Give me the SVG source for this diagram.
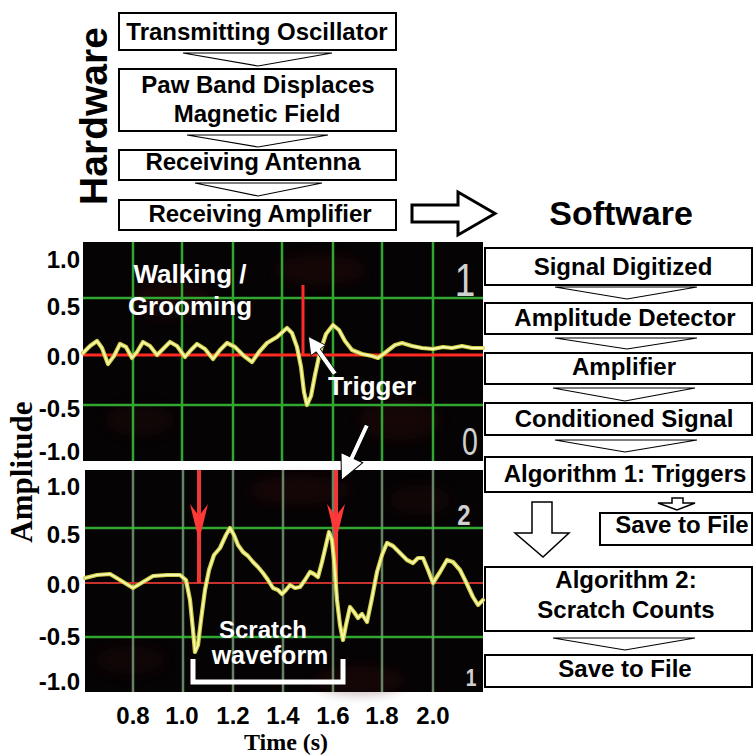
<svg xmlns="http://www.w3.org/2000/svg" width="755" height="756" viewBox="0 0 755 756">
  <style>
    .box { fill: #fff; stroke: #000; stroke-width: 2; }
    .lbl { font-family: "Liberation Sans", Arial, sans-serif; font-weight: bold; font-size: 24px; fill: #000; text-anchor: middle; }
    .chev { fill: #fff; stroke: #000; stroke-width: 1.2; stroke-linejoin: miter; }
    .hollow { fill: #fff; stroke: #000; stroke-linejoin: miter; }
    .tick { font-family: "Liberation Sans", Arial, sans-serif; font-weight: bold; font-size: 24px; fill: #000; }
    .scope { fill: #060304; }
    .gridg { stroke: #39c33a; stroke-width: 2.5; opacity: 0.85; }
    .gridv { stroke: #7fa27c; stroke-width: 2.5; opacity: 0.8; }
    .wave-o { fill: none; stroke: #cfcf45; stroke-width: 4.2; stroke-linejoin: round; stroke-linecap: round; }
    .wave-i { fill: none; stroke: #f8f8b0; stroke-width: 1.8; stroke-linejoin: round; stroke-linecap: round; }
    .wtxt { font-family: "Liberation Sans", Arial, sans-serif; font-weight: bold; fill: #fff; text-anchor: middle; }
    .chan { font-family: "Liberation Sans", Arial, sans-serif; fill: #d0d0d0; text-anchor: middle; }
    .serif { font-family: "Liberation Serif", "Times New Roman", serif; font-weight: bold; fill: #000; text-anchor: middle; }
  </style>
  <defs>
    <filter id="soft" x="-20%" y="-20%" width="140%" height="140%">
      <feGaussianBlur stdDeviation="6"/>
    </filter>
  </defs>

  <rect width="755" height="756" fill="#fff"/>

  <!-- Hardware side -->
  <text class="lbl" style="font-size:39px" transform="translate(107,116) rotate(-90)">Hardware</text>

  <g id="hw-oscillator">
    <rect class="box" x="119" y="13" width="277" height="37"/>
    <text class="lbl" x="257" y="40">Transmitting Oscillator</text>
  </g>
  <g id="hw-pawband">
    <rect class="box" x="119" y="69" width="277" height="62"/>
    <text class="lbl" x="258" y="93">Paw Band Displaces</text>
    <text class="lbl" x="257" y="122">Magnetic Field</text>
  </g>
  <g id="hw-antenna">
    <rect class="box" x="119" y="150" width="277" height="30"/>
    <text class="lbl" x="253" y="170">Receiving Antenna</text>
  </g>
  <g id="hw-amplifier">
    <rect class="box" x="119" y="200" width="277" height="30"/>
    <text class="lbl" x="260" y="222">Receiving Amplifier</text>
  </g>

  <!-- Software side -->
  <text class="lbl" style="font-size:34px" x="621" y="225">Software</text>

  <g id="sw-digitized">
    <rect class="box" x="485" y="248" width="267" height="37"/>
    <text class="lbl" x="623" y="275">Signal Digitized</text>
  </g>
  <g id="sw-detector">
    <rect class="box" x="485" y="303" width="267" height="31"/>
    <text class="lbl" x="625" y="326">Amplitude Detector</text>
  </g>
  <g id="sw-amplifier">
    <rect class="box" x="485" y="353" width="267" height="31"/>
    <text class="lbl" x="624" y="375">Amplifier</text>
  </g>
  <g id="sw-conditioned">
    <rect class="box" x="485" y="403" width="267" height="32"/>
    <text class="lbl" x="624" y="427">Conditioned Signal</text>
  </g>
  <g id="sw-alg1">
    <rect class="box" x="485" y="457" width="267" height="35"/>
    <text class="lbl" x="625" y="482">Algorithm 1: Triggers</text>
  </g>
  <g id="sw-save1">
    <rect class="box" x="600" y="513" width="152" height="32"/>
    <text class="lbl" x="682" y="533">Save to File</text>
  </g>
  <g id="sw-alg2">
    <rect class="box" x="485" y="567" width="267" height="64"/>
    <text class="lbl" x="626" y="588">Algorithm 2:</text>
    <text class="lbl" x="626" y="618">Scratch Counts</text>
  </g>
  <g id="sw-save2">
    <rect class="box" x="485" y="655" width="267" height="32"/>
    <text class="lbl" x="625" y="677">Save to File</text>
  </g>

  <!-- Connectors -->
  <g id="connectors">
    <polygon class="chev" points="183,53 332,53 258,66"/>
    <polygon class="chev" points="187,135 328,135 258,147"/>
    <polygon class="chev" points="195,183 322,183 258,196"/>

    <polygon class="chev" points="555,287 697,287 627,299"/>
    <polygon class="chev" points="555,338 697,338 627,349"/>
    <polygon class="chev" points="553,388 695,388 625,401"/>
    <polygon class="chev" points="555,440 697,440 625,452"/>
    <polygon class="chev" points="553,638 695,638 625,650"/>

    <polygon class="hollow" stroke-width="3" points="412,205 458,205 458,192 495,213.5 458,235 458,222 412,222"/>
    <polygon class="hollow" stroke-width="1.5" points="532,502 552,502 552,533 569,533 543,557 515,533 532,533"/>
    <polygon class="hollow" stroke-width="1.5" points="672,498 683,498 683,503 695,503 677,510 658,503 672,503"/>
  </g>

  <!-- Upper trace: walking / grooming -->
  <g id="scope-top">
    <rect class="scope" x="83" y="242" width="400" height="219"/>
    <g filter="url(#soft)" opacity="0.3">
      <ellipse cx="170" cy="300" rx="40" ry="18" fill="#3a0c10"/>
      <ellipse cx="320" cy="270" rx="45" ry="15" fill="#3a0c10"/>
      <ellipse cx="400" cy="420" rx="40" ry="20" fill="#3a0c10"/>
      <ellipse cx="140" cy="420" rx="35" ry="16" fill="#2a0a0c"/>
    </g>
    <g class="gridg">
      <line x1="133" y1="242" x2="133" y2="461"/>
      <line x1="182" y1="242" x2="182" y2="461"/>
      <line x1="233" y1="242" x2="233" y2="461"/>
      <line x1="282" y1="242" x2="282" y2="461"/>
      <line x1="333" y1="242" x2="333" y2="461"/>
      <line x1="382" y1="242" x2="382" y2="461"/>
      <line x1="433" y1="242" x2="433" y2="461"/>
      <line x1="83" y1="298" x2="483" y2="298"/>
      <line x1="83" y1="405" x2="483" y2="405"/>
    </g>
    <line x1="83" y1="355" x2="483" y2="355" stroke="#ff2b22" stroke-width="3"/>
    <line x1="303" y1="285" x2="303" y2="355" stroke="#ff2b2b" stroke-width="3"/>
    <polyline class="wave-o" points="83,353 90,346 97,341 102,348 108,364 114,356 120,344 126,347 132,358 137,352 143,342 150,346 157,355 163,349 170,342 177,346 185,357 191,350 197,344 205,349 213,359 220,350 227,343 235,347 244,356 252,362 259,352 267,343 277,337 287,328 292,333 297,347 301,367 304,392 307,405 311,396 315,375 320,352 326,334 333,325 339,330 345,341 352,350 362,354 372,356 378,358 386,352 395,345 402,343 412,346 422,348 433,349 443,347 452,348 462,346 472,348 483,348"/>
    <polyline class="wave-i" points="83,353 90,346 97,341 102,348 108,364 114,356 120,344 126,347 132,358 137,352 143,342 150,346 157,355 163,349 170,342 177,346 185,357 191,350 197,344 205,349 213,359 220,350 227,343 235,347 244,356 252,362 259,352 267,343 277,337 287,328 292,333 297,347 301,367 304,392 307,405 311,396 315,375 320,352 326,334 333,325 339,330 345,341 352,350 362,354 372,356 378,358 386,352 395,345 402,343 412,346 422,348 433,349 443,347 452,348 462,346 472,348 483,348"/>
    <text class="chan" x="465" y="296" style="font-size:46px" transform="translate(465,0) scale(0.8,1) translate(-465,0)">1</text>
    <text class="chan" x="470" y="455" style="font-size:38px" transform="translate(470,0) scale(0.75,1) translate(-470,0)">0</text>
    <text class="wtxt" x="190" y="283" style="font-size:26px">Walking /</text>
    <text class="wtxt" x="190" y="315" style="font-size:26px">Grooming</text>
    <text class="wtxt" x="372" y="395" style="font-size:26px">Trigger</text>
    <!-- pointer to the trigger spike -->
    <g transform="translate(335,374) rotate(-125.4)">
      <polygon points="0,-2.5 29,-2.5 29,-9 46,0 29,9 29,2.5 0,2.5" fill="#fff" stroke="#000" stroke-width="0.8"/>
    </g>
  </g>

  <!-- Lower trace: scratch -->
  <g id="scope-bottom">
    <rect class="scope" x="85" y="470" width="398" height="222"/>
    <g filter="url(#soft)" opacity="0.3">
      <ellipse cx="300" cy="490" rx="50" ry="14" fill="#3a0c10"/>
      <ellipse cx="360" cy="680" rx="45" ry="14" fill="#3a0c10"/>
      <ellipse cx="130" cy="660" rx="35" ry="14" fill="#2a0a0c"/>
      <ellipse cx="420" cy="500" rx="30" ry="15" fill="#2a0a0c"/>
    </g>
    <g class="gridv">
      <line x1="133" y1="470" x2="133" y2="692"/>
      <line x1="183" y1="470" x2="183" y2="692"/>
      <line x1="233" y1="470" x2="233" y2="692"/>
      <line x1="283" y1="470" x2="283" y2="692"/>
      <line x1="333" y1="470" x2="333" y2="692"/>
      <line x1="382" y1="470" x2="382" y2="692"/>
      <line x1="433" y1="470" x2="433" y2="692"/>
    </g>
    <g class="gridg">
      <line x1="85" y1="528" x2="483" y2="528"/>
      <line x1="85" y1="637" x2="483" y2="637"/>
    </g>
    <line x1="85" y1="583" x2="483" y2="583" stroke="#c8322c" stroke-width="2"/>
    <g fill="#ff3838" stroke="none">
      <rect x="197" y="470" width="4" height="113" opacity="0.95"/>
      <polygon points="190,504 199,516 208,504 199,541"/>
      <rect x="334" y="470" width="4" height="113" opacity="0.95"/>
      <polygon points="327,504 336,516 345,504 336,541"/>
    </g>
    <polyline class="wave-o" points="85,578 97,575 110,574 120,580 133,588 143,582 153,576 167,575 180,575 186,580 190,600 193,630 195,652 198,645 201,620 205,590 209,570 214,555 220,548 226,535 230,528 234,535 238,545 243,552 248,556 253,562 258,567 263,573 268,580 273,588 278,590 282,594 286,590 290,585 295,588 300,587 305,580 310,572 314,574 318,577 322,562 326,545 329,532 332,540 334,560 337,600 340,625 343,640 346,625 350,607 354,612 358,618 362,614 367,622 372,598 377,572 382,555 387,543 393,546 400,553 407,560 413,563 418,558 423,558 428,570 433,583 440,572 447,560 453,562 460,570 466,582 473,597 478,605 483,600"/>
    <polyline class="wave-i" points="85,578 97,575 110,574 120,580 133,588 143,582 153,576 167,575 180,575 186,580 190,600 193,630 195,652 198,645 201,620 205,590 209,570 214,555 220,548 226,535 230,528 234,535 238,545 243,552 248,556 253,562 258,567 263,573 268,580 273,588 278,590 282,594 286,590 290,585 295,588 300,587 305,580 310,572 314,574 318,577 322,562 326,545 329,532 332,540 334,560 337,600 340,625 343,640 346,625 350,607 354,612 358,618 362,614 367,622 372,598 377,572 382,555 387,543 393,546 400,553 407,560 413,563 418,558 423,558 428,570 433,583 440,572 447,560 453,562 460,570 466,582 473,597 478,605 483,600"/>
    <text class="chan" x="464" y="525" style="font-size:30px;font-weight:bold" transform="translate(464,0) scale(0.8,1) translate(-464,0)">2</text>
    <text class="chan" x="471" y="686" style="font-size:24px;font-weight:bold" transform="translate(471,0) scale(0.8,1) translate(-471,0)">1</text>
    <text class="wtxt" x="263" y="638" style="font-size:24px">Scratch</text>
    <text class="wtxt" x="270" y="664" style="font-size:25px">waveform</text>
    <path d="M193,659 V682 H343 V659" fill="none" stroke="#fff" stroke-width="5"/>
  </g>

  <!-- pointer from the trigger label to the lower trace -->
  <g transform="translate(367,425) rotate(114.8)">
    <polygon points="0,-2.5 36,-2.5 36,-12 61,0 36,12 36,2.5 0,2.5" fill="#fff" stroke="#000" stroke-width="1"/>
  </g>

  <!-- Axes -->
  <g id="y-ticks" text-anchor="end">
    <text class="tick" x="80" y="268">1.0</text>
    <text class="tick" x="80" y="315">0.5</text>
    <text class="tick" x="80" y="365">0.0</text>
    <text class="tick" x="80" y="417">-0.5</text>
    <text class="tick" x="80" y="460">-1.0</text>
    <text class="tick" x="80" y="495">1.0</text>
    <text class="tick" x="80" y="543">0.5</text>
    <text class="tick" x="80" y="593">0.0</text>
    <text class="tick" x="80" y="645">-0.5</text>
    <text class="tick" x="80" y="690">-1.0</text>
  </g>
  <g id="x-ticks" text-anchor="middle">
    <text class="tick" x="133" y="724">0.8</text>
    <text class="tick" x="182" y="724">1.0</text>
    <text class="tick" x="233" y="724">1.2</text>
    <text class="tick" x="283" y="724">1.4</text>
    <text class="tick" x="333" y="724">1.6</text>
    <text class="tick" x="382" y="724">1.8</text>
    <text class="tick" x="433" y="724">2.0</text>
  </g>
  <text class="serif" x="286" y="750" style="font-size:24px">Time (s)</text>
  <text class="serif" style="font-size:31px" transform="translate(32,472) rotate(-90)">Amplitude</text>
</svg>
